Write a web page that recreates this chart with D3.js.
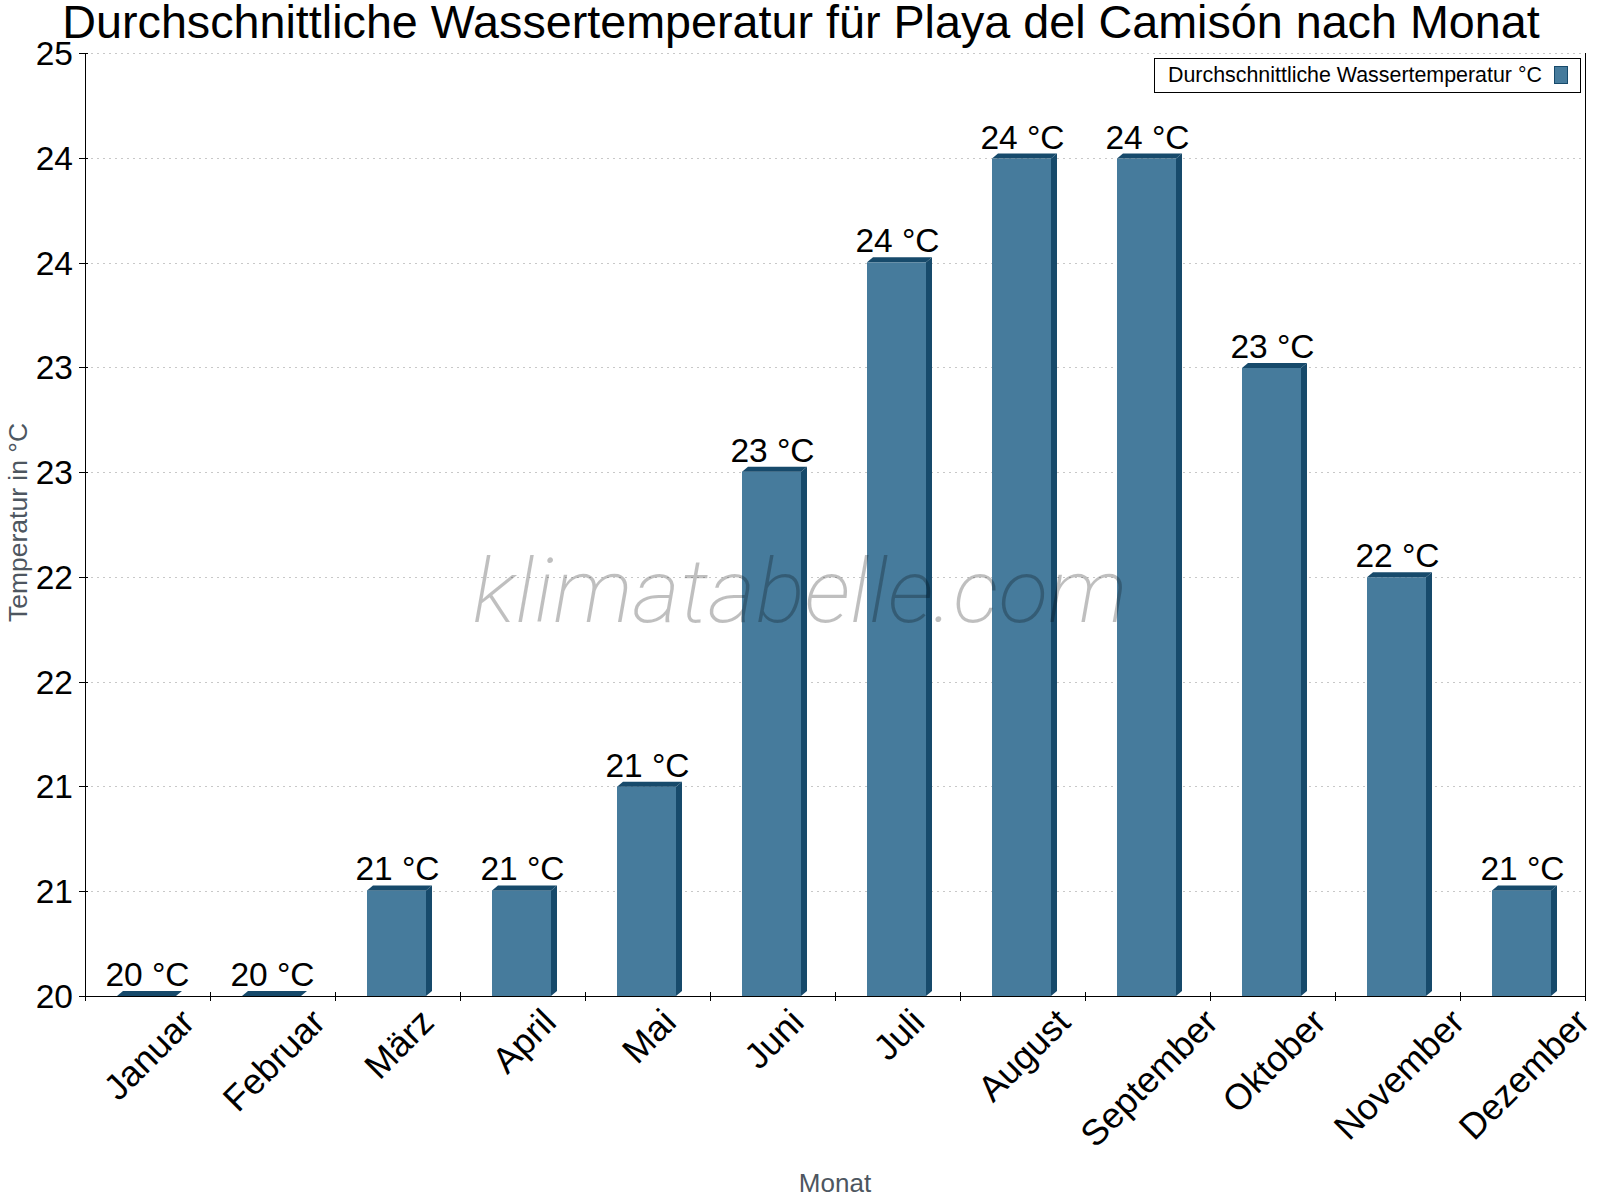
<!DOCTYPE html>
<html>
<head>
<meta charset="utf-8">
<script src="https://cdn.jsdelivr.net/npm/d3@7"></script>
<style>
  html, body { margin: 0; padding: 0; background: #fff; }
  svg { display: block; font-family: "Liberation Sans", Arial, sans-serif; }
</style>
</head>
<body>
<svg id="chart" width="1600" height="1200"></svg>
<script>
// ---- Data ----
const months = ["Januar", "Februar", "März", "April", "Mai", "Juni", "Juli", "August", "September", "Oktober", "November", "Dezember"];
const waterTemp = [20.0, 20.0, 20.56, 20.56, 21.11, 22.78, 23.89, 24.44, 24.44, 23.33, 22.22, 20.56];
const yTickLabels = ["20", "21", "21", "22", "22", "23", "23", "24", "24", "25"];
const yDomain = [20, 25];
const titleText = "Durchschnittliche Wassertemperatur für Playa del Camisón nach Monat";
const legendText = "Durchschnittliche Wassertemperatur °C";
const yTitle = "Temperatur in °C";
const xTitle = "Monat";
const watermark = "klimatabelle.com";

// ---- Layout ----
const W = 1600, H = 1200;
const m = { left: 85, right: 15, top: 53, bottom: 204 };
const plotL = m.left, plotR = W - m.right, plotT = m.top, plotB = H - m.bottom;
const frontCol = "#467b9c", darkCol = "#174a6b";
const depthX = 6, depthY = 5;

const svg = d3.select("#chart");

const x = d3.scaleBand().domain(months).range([plotL, plotR]).padding(0);
const y = d3.scaleLinear().domain(yDomain).range([plotB, plotT]);
const yTicks = yTickLabels.map((_, i) => yDomain[0] + i * (yDomain[1] - yDomain[0]) / (yTickLabels.length - 1));

// Gridlines
svg.append("g").selectAll("line").data(yTicks.slice(1)).join("line")
  .attr("x1", plotL).attr("x2", plotR)
  .attr("y1", d => Math.round(y(d)) + 0.5).attr("y2", d => Math.round(y(d)) + 0.5)
  .attr("stroke", "#c8c8c8").attr("stroke-width", 1).attr("stroke-dasharray", "2,4");

// Bars (pseudo-3D)
const bw = Math.round(x.bandwidth() * 0.472);
const bars = svg.append("g");
months.forEach((mo, i) => {
  const c = x(mo) + x.bandwidth() / 2;
  const x0 = Math.round(c - 30.5);
  const x1 = x0 + bw;
  const yt = y(waterTemp[i]);
  const yb = y(yDomain[0]);
  if (yb - yt > 0.5) {
    bars.append("rect").attr("x", x0).attr("y", yt).attr("width", bw).attr("height", yb - yt).attr("fill", frontCol);
    bars.append("path").attr("d", `M${x1},${yt} L${x1 + depthX},${yt - depthY} L${x1 + depthX},${yb - depthY} L${x1},${yb} Z`).attr("fill", darkCol);
  }
  bars.append("path").attr("d", `M${x0},${yt} L${x0 + depthX},${yt - depthY} L${x1 + depthX},${yt - depthY} L${x1},${yt} Z`).attr("fill", darkCol);
});

// Watermark
svg.append("text")
  .attr("x", 800).attr("y", 622)
  .attr("text-anchor", "middle")
  .attr("font-family", "Roboto, sans-serif")
  .attr("font-style", "italic").attr("font-weight", 200)
  .attr("font-size", 88)
  .attr("textLength", 655).attr("lengthAdjust", "spacingAndGlyphs")
  .attr("fill", "#000").attr("fill-opacity", 0.25)
  .text(watermark);

// Value labels
svg.append("g").selectAll("text").data(months).join("text")
  .attr("x", d => x(d) + x.bandwidth() / 2)
  .attr("y", (d, i) => y(waterTemp[i]) - 10)
  .attr("text-anchor", "middle")
  .attr("font-size", 33.5).attr("fill", "#000")
  .text((d, i) => Math.round(waterTemp[i]) + " °C");

// Axes lines
svg.append("line").attr("x1", plotL + 0.5).attr("x2", plotL + 0.5).attr("y1", plotT).attr("y2", plotB).attr("stroke", "#000");
svg.append("line").attr("x1", plotR + 0.5).attr("x2", plotR + 0.5).attr("y1", plotT).attr("y2", plotB).attr("stroke", "#000");
svg.append("line").attr("x1", plotL).attr("x2", plotR + 1).attr("y1", plotB + 0.5).attr("y2", plotB + 0.5).attr("stroke", "#000");

// Y ticks and labels
const yAxisG = svg.append("g");
yAxisG.selectAll("line").data(yTicks).join("line")
  .attr("x1", plotL - 6).attr("x2", plotL + 3)
  .attr("y1", d => Math.round(y(d)) + 0.5).attr("y2", d => Math.round(y(d)) + 0.5)
  .attr("stroke", "#000");
yAxisG.selectAll("text").data(yTicks).join("text")
  .attr("x", plotL - 12).attr("y", d => y(d) + 12)
  .attr("text-anchor", "end").attr("font-size", 33.5).attr("fill", "#000")
  .text((d, i) => yTickLabels[i]);

// X ticks at band boundaries
const bounds = months.map(mo => x(mo)).concat([plotR]);
svg.append("g").selectAll("line").data(bounds).join("line")
  .attr("x1", d => Math.round(d) + 0.5).attr("x2", d => Math.round(d) + 0.5)
  .attr("y1", plotB - 4).attr("y2", plotB + 5)
  .attr("stroke", "#000");

// X labels rotated 45°, bbox centered on band, top aligned
const labelTop = 1006;
const xl = svg.append("g");
months.forEach(mo => {
  const t = xl.append("text")
    .attr("font-size", 36).attr("fill", "#000")
    .attr("text-anchor", "middle")
    .attr("dy", "0.36em")
    .text(mo);
  const w = t.node().getComputedTextLength();
  const h = 26;
  const cy = labelTop + (w + h) * Math.SQRT1_2 / 2;
  const cx = x(mo) + x.bandwidth() / 2 + 1;
  t.attr("transform", `translate(${cx},${cy}) rotate(-45)`);
});

// Axis titles
svg.append("text")
  .attr("transform", `translate(27,${(plotT + plotB) / 2 - 2}) rotate(-90)`)
  .attr("text-anchor", "middle").attr("font-size", 26.5).attr("fill", "#4d5660")
  .text(yTitle);
svg.append("text")
  .attr("x", (plotL + plotR) / 2).attr("y", 1192)
  .attr("text-anchor", "middle").attr("font-size", 26).attr("fill", "#4d5660")
  .text(xTitle);

// Title
svg.append("text")
  .attr("x", 801).attr("y", 38)
  .attr("text-anchor", "middle").attr("font-size", 46.7).attr("fill", "#000")
  .text(titleText);

// Legend
const lg = svg.append("g");
lg.append("rect").attr("x", 1154.5).attr("y", 58.5).attr("width", 426).attr("height", 34)
  .attr("fill", "#fff").attr("stroke", "#000");
lg.append("text").attr("x", 1168).attr("y", 82).attr("font-size", 21.4).attr("fill", "#000").text(legendText);
lg.append("rect").attr("x", 1554.5).attr("y", 66.5).attr("width", 13).attr("height", 17)
  .attr("fill", frontCol).attr("stroke", darkCol);
</script>
</body>
</html>
